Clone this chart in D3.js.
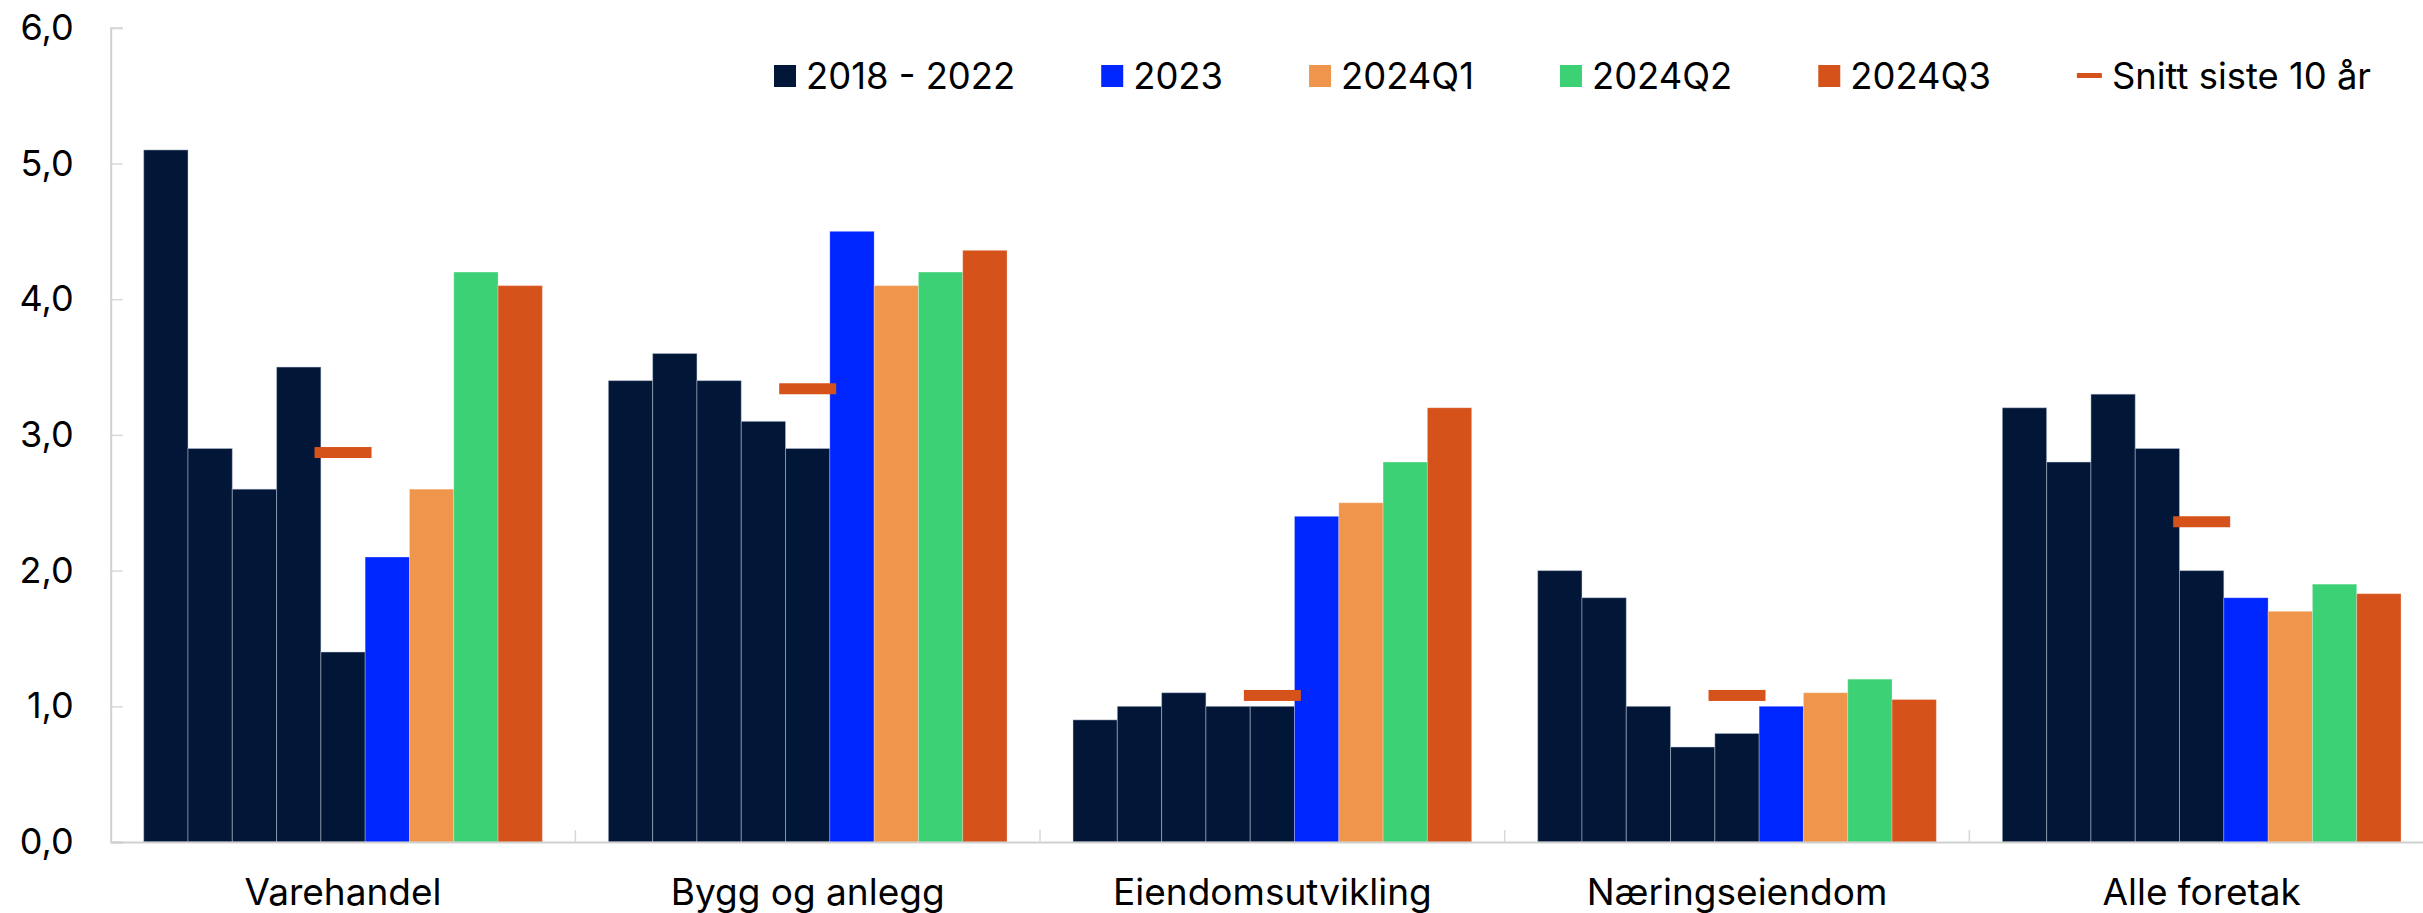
<!DOCTYPE html>
<html>
<head>
<meta charset="utf-8">
<script src="https://cdn.jsdelivr.net/npm/d3@7"></script>
<style>
  html, body { margin: 0; padding: 0; background: #ffffff; }
  svg { display: block; }
  text { font-family: Inter, "Noto Sans", sans-serif; fill: #000; }
</style>
</head>
<body>
<svg id="chart" width="2423" height="913"></svg>
<script>
// ---- data ----
const categories = ["Varehandel", "Bygg og anlegg", "Eiendomsutvikling", "Næringseiendom", "Alle foretak"];
const periods = ["2018", "2019", "2020", "2021", "2022", "2023", "2024Q1", "2024Q2", "2024Q3"];
const s2018 = [5.1, 3.4, 0.9, 2.0, 3.2];
const s2019 = [2.9, 3.6, 1.0, 1.8, 2.8];
const s2020 = [2.6, 3.4, 1.1, 1.0, 3.3];
const s2021 = [3.5, 3.1, 1.0, 0.7, 2.9];
const s2022 = [1.4, 2.9, 1.0, 0.8, 2.0];
const s2023 = [2.1, 4.5, 2.4, 1.0, 1.8];
const s2024Q1 = [2.6, 4.1, 2.5, 1.1, 1.7];
const s2024Q2 = [4.2, 4.2, 2.8, 1.2, 1.9];
const s2024Q3 = [4.1, 4.36, 3.2, 1.05, 1.83];
const snitt10 = [2.87, 3.34, 1.08, 1.08, 2.36];
const yTicks = [0, 1, 2, 3, 4, 5, 6];
const legendLabels = ["2018 - 2022", "2023", "2024Q1", "2024Q2", "2024Q3", "Snitt siste 10 år"];

const seriesValues = [s2018, s2019, s2020, s2021, s2022, s2023, s2024Q1, s2024Q2, s2024Q3];
const colors = {
  dark: "#021738", blue: "#0026ff", orange: "#ef964c", green: "#3dd175", red: "#d6521b"
};
const periodColors = [colors.dark, colors.dark, colors.dark, colors.dark, colors.dark,
                      colors.blue, colors.orange, colors.green, colors.red];
const legendColors = [colors.dark, colors.blue, colors.orange, colors.green, colors.red, colors.red];

// ---- layout ----
const svg = d3.select("#chart");
const left = 110.7, right = 2434, y0 = 842, y6 = 27.8;
const fontSize = 37;
const legendFont = 36.4;

const x0 = d3.scaleBand().domain(categories).range([left, right]).paddingInner(0).paddingOuter(0);
const x1 = d3.scaleBand().domain(periods).range([0, x0.bandwidth()]).paddingInner(0).paddingOuter(0.745);
const y = d3.scaleLinear().domain([0, 6]).range([y0, y6]);

// bars
const rows = [];
categories.forEach((c, ci) => {
  periods.forEach((p, pi) => {
    rows.push({ cat: c, period: p, value: seriesValues[pi][ci], color: periodColors[pi], dark: pi < 5 });
  });
});

svg.append("g").selectAll("rect").data(rows).join("rect")
  .attr("x", d => x0(d.cat) + x1(d.period))
  .attr("y", d => y(d.value))
  .attr("width", x1.bandwidth())
  .attr("height", d => y0 - y(d.value))
  .attr("fill", d => d.color)
  .attr("stroke", d => d.dark ? "rgba(200,210,225,0.45)" : "rgba(255,255,255,0.25)")
  .attr("stroke-width", 1);

// average markers
const markW = 57, markH = 11;
svg.append("g").selectAll("rect").data(categories).join("rect")
  .attr("x", (c) => x0(c) + x1("2022") + x1.bandwidth() / 2 - markW / 2)
  .attr("y", (c, i) => y(snitt10[i]) - markH / 2)
  .attr("width", markW)
  .attr("height", markH)
  .attr("fill", colors.red);

// y axis
const yAxis = d3.axisRight(y).tickValues(yTicks).tickSize(12)
  .tickFormat(d => d3.format(".1f")(d).replace(".", ","));
const gy = svg.append("g").attr("transform", `translate(${left},0)`).call(yAxis);
gy.select(".domain").attr("stroke", "#d0d0d0").attr("stroke-width", 2);
gy.selectAll(".tick line").attr("stroke", "#d8d8d8").attr("stroke-width", 1.5);
gy.selectAll(".tick text")
  .attr("x", -37).attr("text-anchor", "end")
  .style("font-size", "36px").style("font-family", "Inter, 'Noto Sans', sans-serif")
  .attr("fill", "#000");

// x axis
const xAxis = d3.axisBottom(x0).tickSize(0).tickPadding(0);
const gx = svg.append("g").attr("transform", `translate(0,${y0})`).call(xAxis);
gx.select(".domain").attr("stroke", "#d0d0d0").attr("stroke-width", 2);
gx.selectAll(".tick text")
  .attr("y", 63).attr("dy", 0)
  .style("font-size", fontSize + "px").style("font-family", "Inter, 'Noto Sans', sans-serif")
  .attr("fill", "#000");
// category separator ticks
const bounds = categories.slice(1).map(c => x0(c)).concat([x0(categories[categories.length - 1]) + x0.bandwidth()]);
svg.append("g").selectAll("line").data(bounds).join("line")
  .attr("x1", d => d).attr("x2", d => d)
  .attr("y1", y0).attr("y2", y0 - 12)
  .attr("stroke", "#d8d8d8").attr("stroke-width", 1.5);

// legend
const lg = svg.append("g");
let lx = 774;
const ly = 76;
legendLabels.forEach((lab, i) => {
  const g = lg.append("g");
  let sw;
  if (i < 5) {
    sw = 22;
    g.append("rect").attr("x", lx).attr("y", ly - 11).attr("width", 22).attr("height", 22).attr("fill", legendColors[i]);
  } else {
    sw = 25;
    g.append("rect").attr("x", lx).attr("y", ly - 3).attr("width", 25).attr("height", 5).attr("fill", legendColors[i]);
  }
  const t = g.append("text").attr("x", lx + sw + 10).attr("y", ly).attr("dy", "0.35em")
    .style("font-size", legendFont + "px").text(lab);
  const w = t.node().getComputedTextLength();
  lx = lx + sw + 10 + w + 86;
});
</script>
</body>
</html>
